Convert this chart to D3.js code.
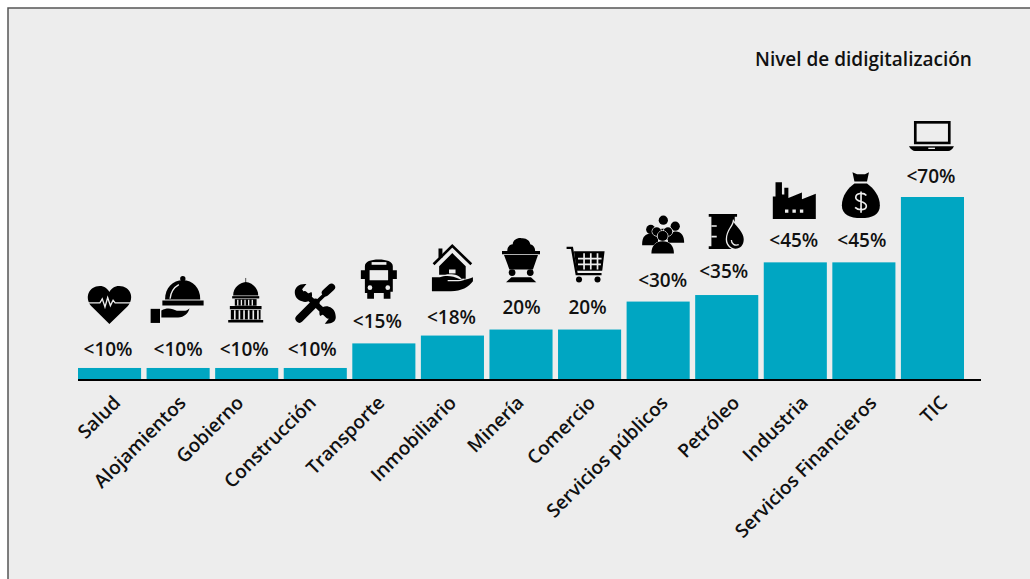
<!DOCTYPE html>
<html>
<head>
<meta charset="utf-8">
<script src="https://cdn.jsdelivr.net/npm/d3@7"></script>
<style>
html, body { margin: 0; padding: 0; background: #fff; }
svg { display: block; }
text { font-family: "Open Sans", sans-serif; fill: #111; }
.tick-label { font-size: 19px; font-weight: 600; }
.value-label { font-size: 19px; font-weight: 600; }
.title { font-size: 19px; font-weight: 600; }
</style>
</head>
<body>
<div id="chart"></div>
<script>
var categories = ["Salud", "Alojamientos", "Gobierno", "Construcción", "Transporte", "Inmobiliario", "Minería", "Comercio", "Servicios públicos", "Petróleo", "Industria", "Servicios Financieros", "TIC"];
var barValues = [4.6, 4.6, 4.6, 4.6, 14, 17, 19.3, 19.3, 30, 32.5, 45, 45, 70];
var valueLabels = ["<10%", "<10%", "<10%", "<10%", "<15%", "<18%", "20%", "20%", "<30%", "<35%", "<45%", "<45%", "<70%"];
var iconNames = ["heart", "cloche", "capitol", "tools", "bus", "house", "minecart", "cart", "people", "barrel", "factory", "money", "laptop"];

var W = 1030, H = 579;
var BG = "#ededed", BAR = "#00a6c2";

// label placement, relative to the top of each bar
var labelGap = [12, 12, 12, 12, 15, 12, 16, 16, 15, 17, 15, 15, 14];
var labelDx = [-1.5, 0, -2.5, -3, -6.5, -1, 0.5, -2, 4.5, -3, -1.5, -2, -1.5];
// the slanted names were placed by hand in the original, so they drift off the bar centres
var tickDx = [12, 9, -2, 2, 2, 5, 4, 7, 11, 14, 14, 14, 16];

// ** ------- ICONS ------- **
function k(d) { return { d: d, fill: "#000" }; }
function kl(d, w) { return { d: d, stroke: "#000", sw: w }; }
function b(d) { return { d: d, fill: BG }; }
function bl(d, w) { return { d: d, stroke: BG, sw: w }; }
function circ(x, y, r) { return "M" + (x - r) + " " + y + "a" + r + " " + r + " 0 1 0 " + (2 * r) + " 0a" + r + " " + r + " 0 1 0 " + (-2 * r) + " 0Z"; }

// w, h = box in the icon's own units; px = drawn width; dx, dy = offset of the box from bar centre / bar top
var icons = {
	heart: { w: 127, h: 112, px: 43, dx: 0, dy: -82, parts: [
		k("M63 112L10 60C-12 35 2 0 35 0C48 0 58 8 63 18C68 8 78 0 92 0C125 0 139 35 117 60Z"),
		bl("M0 50H35L42 38L50 62L58 34L66 58L74 42L80 50H127", 4)
	]},
	cloche: { w: 158, h: 140, px: 53, dx: -1, dy: -92, parts: [
		k(circ(96, 8, 8)),
		k("M43 70C43 35 66 13 96 13C126 13 148 35 148 70Z"),
		k("M35 73H158V88H35Z"),
		bl("M58 68C60 48 70 34 84 26", 4),
		k("M0 98H28V140H0Z"),
		k("M32 103C50 93 66 98 78 104H100C110 104 116 96 116 96C112 112 100 122 82 124H32Z")
	]},
	capitol: { w: 106, h: 135, px: 35, dx: -1, dy: -90, parts: [
		kl("M53 0V15", 2),
		k("M15 53C15 28 35 14 53 12C71 14 91 28 91 53Z"),
		k("M12 55H94V62H12Z"),
		k("M20 64H86V84H20Z"),
		k("M5 85H101V95H5Z"),
		k("M8 97H98V126H8Z"),
		k("M0 127H106V135H0Z"),
		bl("M29 66V83M40 66V83M51 66V83M62 66V83M73 66V83", 4),
		bl("M20 98V126M34 98V126M48 98V126M62 98V126M76 98V126M90 98V126", 5)
	]},
	tools: { w: 123, h: 119, px: 41, dx: 0, dy: -84, parts: [
		kl("M30 30L100 95", 17),
		k("M0 25C0 8 15 -2 35 0L22 16L32 32L50 24C58 42 40 60 22 52C8 48 0 38 0 25Z"),
		k("M123 100C123 115 108 121 90 119L102 104L92 88L76 96C68 80 84 62 102 68C116 72 123 84 123 100Z"),
		kl("M14 104L62 56", 24),
		kl("M62 58L104 18", 11),
		kl("M92 26L110 10", 22)
	].map(function(p) { if (p.sw) p.linecap = "round"; return p; })},
	bus: { w: 107, h: 117, px: 36, dx: -5, dy: -84, parts: [
		k("M12 20C12 6 30 0 53 0C76 0 95 6 95 20V32H107V58H95V96H88V117H68V100H39V117H19V100H12V58H0V32H12Z"),
		b("M26 32H81V62H26Z"),
		b("M32 8H76V16H32Z"),
		b(circ(27, 84, 7)),
		b(circ(80, 84, 7))
	]},
	house: { w: 125, h: 142, px: 41, dx: 0, dy: -91, parts: [
		kl("M5 60L62 4L120 60", 8),
		k("M20 12H32V40H20Z"),
		k("M62 26L103 66V104H90C82 92 60 88 40 92H22V66Z"),
		b("M52 76H72V88H52Z"),
		k("M0 100H24C42 92 66 96 82 104C92 110 108 108 125 100V112C112 130 90 142 58 142H0Z"),
		bl("M48 110H80C86 110 92 108 98 106", 4)
	]},
	minecart: { w: 113, h: 133, px: 38, dx: 0, dy: -92, parts: [
		k("M16 42C14 28 24 20 32 20C32 8 46 0 58 2C72 0 84 10 84 20C94 22 100 32 98 42Z"),
		k("M0 40H113V50H0Z"),
		k("M6 52H107L92 95H22Z"),
		k(circ(30, 104, 10)),
		k(circ(84, 104, 10)),
		k("M12 133L28 118H86L102 133Z")
	]},
	cart: { w: 113, h: 107, px: 38, dx: -4, dy: -83, parts: [
		kl("M0 4H16L30 82H104", 7),
		k("M22 14H113L106 72H30Z"),
		bl("M34 36H104M34 53H102M52 20V68M72 20V68M92 20V68", 5),
		k(circ(37, 98, 9)),
		k(circ(92, 98, 9))
	]},
	people: { w: 127, h: 115, px: 42, dx: 5, dy: -86, parts: [
		k(circ(26, 42, 14)), k(circ(100, 32, 14)), k(circ(64, 14, 14)),
		k("M0 85C0 65 10 54 26 54C34 54 44 60 48 72V90H0Z"),
		k("M78 70C82 56 92 48 102 48C118 48 127 60 127 82H78Z"),
		k("M44 50C44 36 84 36 84 50V72H44Z"),
		bl(circ(44, 48, 14) + circ(78, 48, 14), 3),
		k(circ(44, 48, 13)), k(circ(78, 48, 13)),
		bl(circ(62, 62, 16), 3),
		k(circ(62, 62, 15)),
		bl("M28 115C28 90 42 78 62 78C82 78 96 90 96 115", 3),
		k("M28 115C28 90 42 78 62 78C82 78 96 90 96 115Z")
	]},
	barrel: { w: 105, h: 105, px: 35, dx: -0.5, dy: -81, parts: [
		k("M0 0H85V8H78V97H86V105H0V97H8V8H0Z"),
		bl("M8 36H24M8 68H24", 5),
		bl("M75 25C72 40 55 50 55 76C55 94 70 104 80 104C95 104 105 94 105 76C105 56 85 40 75 25Z", 8),
		k("M75 25C72 40 55 50 55 76C55 94 70 104 80 104C95 104 105 94 105 76C105 56 85 40 75 25Z"),
		bl("M68 78C68 90 78 96 90 92", 4)
	]},
	factory: { w: 127, h: 108, px: 43, dx: -1, dy: -80, parts: [
		k("M8 0H27V36H34V16H46V46L86 30V50L127 34V108H0V42H8Z"),
		b("M36 80H46V90H36ZM58 80H68V90H58ZM80 80H90V90H80Z")
	]},
	money: { w: 115, h: 138, px: 38, dx: -3, dy: -90, parts: [
		k("M32 0L46 6H70L82 0L76 28H38Z"),
		k("M38 34H76C96 48 115 72 115 100C115 128 92 138 58 138C24 138 0 128 0 100C0 72 18 48 38 34Z"),
		bl("M74 70C66 60 42 62 42 76C42 92 74 84 74 102C74 116 50 116 40 106M58 58V122", 5)
	]},
	laptop: { w: 135, h: 90, px: 45, dx: -1, dy: -76, parts: [
		k("M15 0H125V70H15Z"),
		b("M23 8H117V62H23Z"),
		k("M0 76H135C130 86 124 90 118 90H18C12 90 6 86 0 76Z"),
		b("M58 80H78V84H58Z")
	]}
};

// ** ------- LAYOUT ------- **
var svg = d3.select("#chart").append("svg")
	.attr("width", W)
	.attr("height", H);

svg.append("rect")
	.attr("x", 8).attr("y", 8)
	.attr("width", W).attr("height", H)
	.style("fill", BG)
	.style("stroke", "#555")
	.style("stroke-width", 1.5);

var baseY = 380;

var scaleX = d3.scaleBand()
	.domain(categories)
	.range([78, 964])
	.paddingInner(0.08);

var scaleY = d3.scaleLinear()
	.domain([0, 70])
	.range([baseY, 197]);

svg.append("text")
	.attr("class", "title")
	.attr("x", 755)
	.attr("y", 66)
	.text("Nivel de didigitalización");

svg.selectAll(".bar").data(categories).enter().append("rect")
	.attr("class", "bar")
	.attr("x", function(d) { return scaleX(d); })
	.attr("y", function(d, i) { return scaleY(barValues[i]); })
	.attr("width", scaleX.bandwidth())
	.attr("height", function(d, i) { return baseY - scaleY(barValues[i]); })
	.style("fill", BAR);

var axisX = d3.axisBottom()
	.scale(scaleX)
	.tickSize(0);

var gx = svg.append("g")
	.attr("class", "axis-x")
	.attr("transform", "translate(0," + baseY + ")")
	.call(axisX);

gx.select(".domain").remove();
gx.selectAll("text")
	.attr("class", "tick-label")
	.attr("x", 0).attr("y", 0).attr("dy", null)
	.attr("text-anchor", "end")
	.attr("transform", function(d, i) { return "translate(" + tickDx[i] + ",24) rotate(-45)"; });

svg.append("line")
	.attr("x1", 78).attr("x2", 981)
	.attr("y1", baseY).attr("y2", baseY)
	.style("stroke", "#000")
	.style("stroke-width", 2);

svg.selectAll(".value-label").data(categories).enter().append("text")
	.attr("class", "value-label")
	.attr("text-anchor", "middle")
	.attr("x", function(d, i) { return scaleX(d) + scaleX.bandwidth() / 2 + labelDx[i]; })
	.attr("y", function(d, i) { return scaleY(barValues[i]) - labelGap[i]; })
	.text(function(d, i) { return valueLabels[i]; });

var iconGroups = svg.selectAll(".icon").data(categories).enter().append("g")
	.attr("class", "icon")
	.attr("transform", function(d, i) {
		var ic = icons[iconNames[i]];
		var s = ic.px / ic.w;
		var x = scaleX(d) + scaleX.bandwidth() / 2 + ic.dx - ic.px / 2;
		var y = scaleY(barValues[i]) + ic.dy;
		return "translate(" + x + "," + y + ") scale(" + s + ")";
	});

iconGroups.each(function(d, i) {
	d3.select(this).selectAll("path").data(icons[iconNames[i]].parts).enter().append("path")
		.attr("d", function(p) { return p.d; })
		.style("fill", function(p) { return p.fill || "none"; })
		.style("stroke", function(p) { return p.stroke || "none"; })
		.style("stroke-width", function(p) { return p.sw || 0; })
		.style("stroke-linecap", function(p) { return p.linecap || "butt"; });
});
</script>
</body>
</html>
